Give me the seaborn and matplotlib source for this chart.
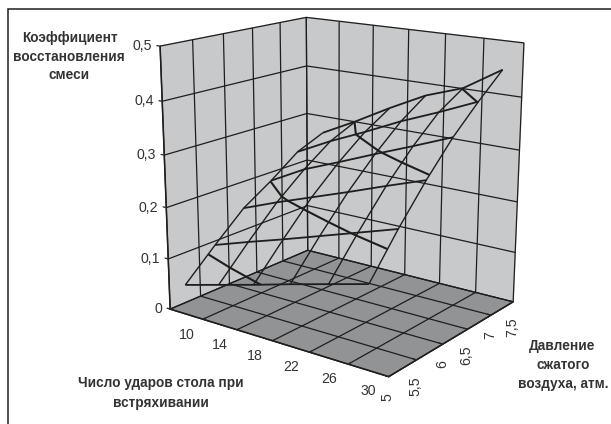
"""Surface wireframe: mix recovery coefficient vs table blows and air pressure."""

import matplotlib

matplotlib.use("Agg")
import matplotlib.pyplot as plt
import numpy as np
import seaborn as sns
from matplotlib.patches import Rectangle
from mpl_toolkits.mplot3d import proj3d

sns.set_theme(style="white", font="Liberation Sans")

# blows of the table (labels sit between the ticks, as in a category axis)
COUNTS = [10, 14, 18, 22, 26, 30]
COUNT_EDGES = [8, 12, 16, 20, 24, 28, 32]
PRESSURE = [5, 5.5, 6, 6.5, 7, 7.5]
PRESSURE_LABELS = ["5", "5,5", "6", "6,5", "7", "7,5"]
Z_TICKS = [0, 0.1, 0.2, 0.3, 0.4, 0.5]
Z_LABELS = ["0", "0,1", "0,2", "0,3", "0,4", "0,5"]
LEVELS = [0.1, 0.2, 0.3, 0.4]

K_P50 = [0.058, 0.077, 0.096, 0.116, 0.135, 0.154]
K_P55 = [0.113, 0.136, 0.158, 0.181, 0.204, 0.227]
K_P60 = [0.165, 0.192, 0.217, 0.242, 0.268, 0.293]
K_P65 = [0.201, 0.238, 0.266, 0.295, 0.323, 0.352]
K_P70 = [0.242, 0.277, 0.308, 0.341, 0.370, 0.401]
K_P75 = [0.265, 0.301, 0.340, 0.376, 0.401, 0.446]

INK = "#1e1e1e"
TEXT = "#333333"
W, H = 611, 424

X, Y = np.meshgrid(COUNTS, PRESSURE)
Z = np.array([K_P50, K_P55, K_P60, K_P65, K_P70, K_P75])

fig = plt.figure(figsize=(W / 100, H / 100), dpi=100, facecolor="white")
ax = fig.add_subplot(projection="3d", computed_zorder=False)
ax.patch.set_alpha(0)

ax.plot_wireframe(X, Y, Z, rstride=1, cstride=0, color=INK, linewidth=1.3, zorder=5)
ax.plot_wireframe(X, Y, Z, rstride=0, cstride=1, color=INK, linewidth=1.0, zorder=5)
ax.contour(X, Y, Z, levels=LEVELS, colors=INK, linewidths=1.5, zorder=6)

ax.set_xlim(8, 32, view_margin=0)
ax.set_ylim(5, 7.5, view_margin=0)
ax.set_zlim(0, 0.5, view_margin=0)

# camera fitted to the corners of the reference box
ax.view_init(elev=15.974, azim=-53.523, roll=-0.12)
ax.set_proj_type("persp", focal_length=0.5404)
ax.set_box_aspect((0.9983, 0.8398, 1.0))
ax.set_position([121.11 / W, 22.97 / H, 432.72 / W, 432.72 / H])

ax.set_xticks(COUNT_EDGES)
ax.set_yticks(PRESSURE)
ax.set_zticks(Z_TICKS)

ax.zaxis._axinfo["juggled"] = (1, 2, 0)  # z axis on the left
for axis in (ax.xaxis, ax.yaxis, ax.zaxis):
    axis.set_tick_params(label1On=False)
    axis._axinfo["grid"].update(color=INK, linewidth=0.9)
    axis._axinfo["tick"].update(inward_factor=0, outward_factor=0.2, linewidth={True: 0.9, False: 0.9}, color=INK)
    axis.line.set_color(INK)
    axis.line.set_linewidth(1.1)
    axis.pane.set_edgecolor("#8a8b8d")
    axis.pane.set_linewidth(1.0)
ax.xaxis.set_pane_color("#c8c9cb")
ax.yaxis.set_pane_color("#c8c9cb")
ax.zaxis.set_pane_color("#929395")
ax.zaxis.pane.set_edgecolor("#777777")
ax.zaxis.pane.set_linestyle((0, (1, 1)))


def tick_label(x, y, z, text, dx, dy, **kw):
    # project the data point, then shift the label by whole pixels
    xp, yp, _ = proj3d.proj_transform(x, y, z, ax.get_proj())
    ax.annotate(text, (xp, yp), xytext=(dx, dy), textcoords="offset pixels",
                annotation_clip=False, fontsize=10.2, color=TEXT, **kw)


for z, lab in zip(Z_TICKS, Z_LABELS):
    tick_label(8, 5, z, lab, -8, 0, ha="right", va="center")
for c in COUNTS:
    tick_label(c, 5, 0, str(c), 0, -21, ha="center", va="center")
for p, lab in zip(PRESSURE, PRESSURE_LABELS):
    tick_label(32, p, 0, lab, -1, -16, ha="center", va="top", rotation=90)

title_kw = dict(fontsize=9.8, fontweight="bold", color=TEXT, ha="center", va="center")
for text, x, y in [
    ("Коэффициент", 70, 38), ("восстановления", 69, 57), ("смеси", 69, 75),
    ("Число ударов стола при", 161, 383), ("встряхивании", 161, 403),
    ("Давление", 562, 346), ("сжатого", 563, 365), ("воздуха, атм.", 563, 384),
]:
    fig.text(x / W, 1 - y / H, text, **title_kw)

# outer frame runs off the right and bottom of the picture
fig.add_artist(Rectangle((8 / W, -0.1), 1.2, 1.1 - 9 / H, transform=fig.transFigure,
                         fill=False, edgecolor=INK, linewidth=1.1))

fig.savefig("out.png", dpi=100)
